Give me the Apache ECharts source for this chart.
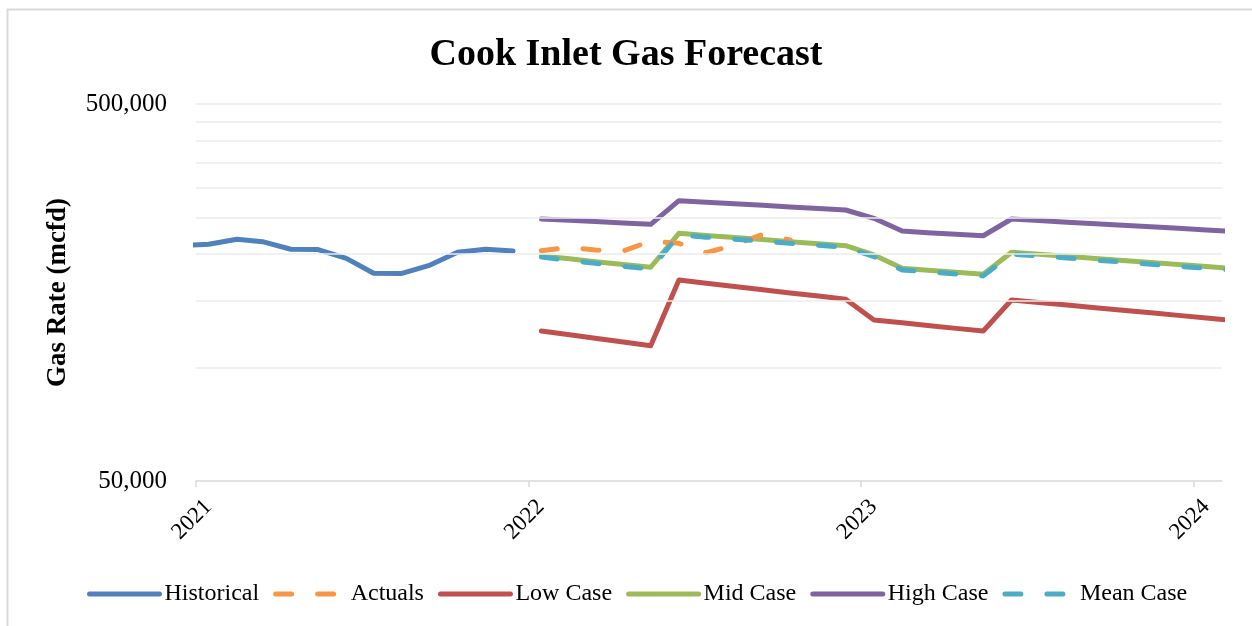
<!DOCTYPE html>
<html>
<head>
<meta charset="utf-8">
<script src="https://cdn.jsdelivr.net/npm/echarts@6/dist/echarts.min.js"></script>
<style>html,body{margin:0;padding:0;background:#fff}#c{width:1252px;height:626px}</style>
</head>
<body>
<div id="c"></div>
<script>
// ---- data (monthly, plotted mid-month) ----
const histStart = [2020, 11];          // Dec 2020
const histValues = [210700, 212300, 218900, 215700, 205900, 205500, 194800, 177800, 177600, 187000, 202100, 206000, 203700];
const actualStart = [2022, 0];         // Jan 2022
const actualValues = [204100, 208400, 205000, 203700, 216500, 213500, 201600, 211300, 225600, 217900];
const caseStart = [2022, 0];           // Jan 2022 .. Feb 2024
const lowValues = [125000, 122200, 119500, 116900, 114200, 170700, 167400, 164100, 160800, 157700, 154700, 151700, 133600, 131400, 129200, 127000, 125000, 151000, 148700, 146400, 144100, 141900, 139700, 137500, 135400, 133200];
const midValues = [197700, 194300, 190900, 187700, 184500, 226900, 224100, 221300, 218500, 215700, 213100, 210400, 198900, 183300, 181100, 178900, 176700, 202100, 199700, 197200, 194700, 192300, 189900, 187500, 185200, 182900];
const highValues = [247700, 245700, 243800, 241700, 239800, 277000, 274500, 271800, 269300, 266700, 264300, 261700, 248700, 230200, 227900, 225800, 223600, 247700, 245300, 243000, 240700, 238500, 236100, 234000, 231700, 229600];
const meanValues = [196300, 192400, 189000, 185600, 182700, 224600, 221700, 219000, 216300, 213500, 211000, 208300, 196900, 181500, 179300, 177100, 175000, 199900, 197600, 195300, 192800, 190400, 188000, 185600, 183400, 181300];
const yearTicks = [2021, 2022, 2023, 2024];
const gridValues = [100000, 150000, 200000, 250000, 300000, 350000, 400000, 450000, 500000];
const seriesNames = ['Historical', 'Actuals', 'Low Case', 'Mid Case', 'High Case', 'Mean Case'];
const colors = ['#4F81BD', '#F79646', '#C0504D', '#9BBB59', '#8064A2', '#4BACC6'];

function build(start, vals) {
  return vals.map((v, i) => [Date.UTC(start[0], start[1] + i, 15), v]);
}
const FONT = 'Liberation Serif';
const dashed = [16, 26];

function lineSeries(name, data, color, dash, z) {
  return {
    name: name, type: 'line', data: data, showSymbol: false, symbol: 'none', z: z,
    lineStyle: { color: color, width: 5, type: dash ? dashed : 'solid', cap: 'round', join: 'round' },
    itemStyle: { color: color },
    emphasis: { disabled: true }
  };
}

const chart = echarts.init(document.getElementById('c'), null, { renderer: 'canvas' });
chart.setOption({
  animation: false,
  backgroundColor: '#fff',
  title: {
    text: 'Cook Inlet Gas Forecast', left: 'center', top: 31,
    textStyle: { fontFamily: FONT, fontWeight: 'bold', fontSize: 38, color: '#000' }
  },
  graphic: [{
    type: 'rect', left: 5, top: 7, z: -10,
    shape: { width: 1280, height: 680 },
    style: { fill: 'none', stroke: '#d9d9d9', lineWidth: 2 }
  }],
  legend: {
    data: seriesNames, left: 82, top: 577, itemWidth: 70, itemHeight: 14, itemGap: 14,
    itemStyle: { opacity: 0 },
    lineStyle: { width: 5, cap: 'round' },
    textStyle: { fontFamily: FONT, fontSize: 24, color: '#000' }
  },
  grid: { left: 196, right: 30, top: 104, bottom: 145, containLabel: false },
  xAxis: {
    type: 'value',
    min: Date.UTC(2021, 0, 1), max: Date.UTC(2024, 1, 1),
    splitLine: { show: false },
    axisLine: { show: true, lineStyle: { color: '#d9d9d9', width: 1.5 } },
    axisTick: { show: true, length: 6, lineStyle: { color: '#d9d9d9', width: 1.5 },
      customValues: yearTicks.map(y => Date.UTC(y, 0, 1)) },
    axisLabel: {
      rotate: 45, margin: 10, fontFamily: FONT, fontSize: 23, color: '#000',
      verticalAlign: 'top', padding: [6, 0, 0, 0],
      customValues: yearTicks.map(y => Date.UTC(y, 0, 1)),
      formatter: v => String(new Date(v).getUTCFullYear())
    }
  },
  yAxis: {
    type: 'log', logBase: 10, min: 50000, max: 500000,
    name: 'Gas Rate (mcfd)', nameLocation: 'middle', nameGap: 124,
    nameTextStyle: { fontFamily: FONT, fontWeight: 'bold', fontSize: 27, color: '#000' },
    splitLine: { show: false },
    axisLine: { show: false },
    axisTick: { show: false },
    axisLabel: {
      margin: 29, fontFamily: FONT, fontSize: 25, color: '#000',
      showMinLabel: true, showMaxLabel: true,
      formatter: v => {
        const r = Math.round(v);
        if (Math.abs(r - 50000) < 10) return '50,000';
        if (Math.abs(r - 500000) < 10) return '500,000';
        return '';
      }
    }
  },
  series: [
    {
      name: '__grid', type: 'line', data: [], z: 1, silent: true,
      markLine: {
        silent: true, symbol: 'none', label: { show: false }, animation: false,
        lineStyle: { color: '#ececec', type: 'solid', width: 1.5 },
        emphasis: { disabled: true },
        data: gridValues.map(v => ({ yAxis: v }))
      }
    },
    lineSeries(seriesNames[0], build(histStart, histValues), colors[0], false, 3),
    lineSeries(seriesNames[2], build(caseStart, lowValues), colors[2], false, 3),
    lineSeries(seriesNames[4], build(caseStart, highValues), colors[4], false, 3),
    lineSeries(seriesNames[3], build(caseStart, midValues), colors[3], false, 3),
    lineSeries(seriesNames[1], build(actualStart, actualValues), colors[1], true, 3),
    lineSeries(seriesNames[5], build(caseStart, meanValues), colors[5], true, 4)
  ]
});
</script>
</body>
</html>
